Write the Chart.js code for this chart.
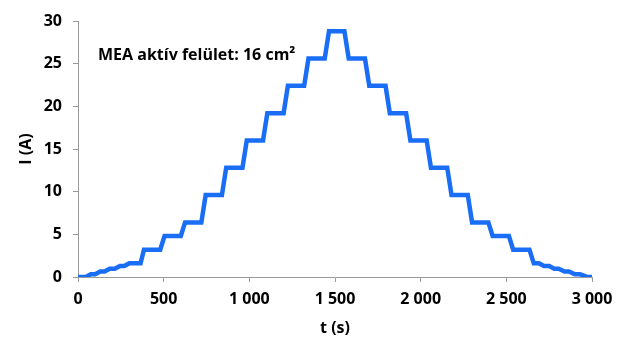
<!DOCTYPE html>
<html>
<head>
<meta charset="utf-8">
<script src="https://cdn.jsdelivr.net/npm/chart.js@4.4.1/dist/chart.umd.min.js"></script>
<style>
  html, body { margin: 0; padding: 0; background: #fff; }
  #wrap { width: 624px; height: 338px; }
</style>
</head>
<body>
<div id="wrap"><canvas id="chart"></canvas></div>
<script>
// step profile
const timeSec = [0, 45, 75, 100, 130, 155, 185, 215, 245, 270, 300, 365,
  385, 480, 505, 600, 625, 720, 745, 840, 865, 960, 985, 1080, 1105, 1200,
  1225, 1320, 1345, 1440, 1465, 1555, 1580, 1675, 1700, 1795, 1820, 1915,
  1940, 2035, 2060, 2155, 2180, 2275, 2300, 2395, 2420, 2515, 2540, 2635,
  2660, 2690, 2720, 2750, 2780, 2805, 2840, 2865, 2900, 2930, 2975, 3000]
const currentA = [0, 0, 0.32, 0.32, 0.64, 0.64, 0.96, 0.96, 1.28, 1.28, 1.6, 1.6,
  3.2, 3.2, 4.8, 4.8, 6.4, 6.4, 9.6, 9.6, 12.8, 12.8, 16, 16, 19.2, 19.2,
  22.4, 22.4, 25.6, 25.6, 28.8, 28.8, 25.6, 25.6, 22.4, 22.4, 19.2, 19.2,
  16, 16, 12.8, 12.8, 9.6, 9.6, 6.4, 6.4, 4.8, 4.8, 3.2, 3.2,
  1.6, 1.6, 1.28, 1.28, 0.96, 0.96, 0.64, 0.64, 0.32, 0.32, 0, 0]
const xTicks = [0, 500, 1000, 1500, 2000, 2500, 3000]
const yTicks = [0, 5, 10, 15, 20, 25, 30]
const note = 'MEA aktív felület: 16 cm²'

const font = { family: 'Open Sans', weight: 'bold', size: 16 }
const axisGrey = '#9a9a9a'

const points = timeSec.map((t, i) => ({ x: t, y: currentA[i] }))

const fmt = (v) => v >= 1000 ? Math.floor(v / 1000) + ' ' + String(v % 1000).padStart(3, '0') : String(v)

const notePlugin = {
  id: 'note',
  afterDraw(chart) {
    const { ctx, chartArea } = chart
    ctx.save()
    ctx.font = 'bold 16px "Open Sans"'
    ctx.fillStyle = '#000'
    ctx.textBaseline = 'alphabetic'
    ctx.fillText(note, chartArea.left + 20, chartArea.top + 39)
    ctx.restore()
  }
}

new Chart(document.getElementById('chart'), {
  type: 'scatter',
  data: {
    datasets: [{
      data: points,
      showLine: true,
      borderColor: '#1a6ef5',
      borderWidth: 4.5,
      borderJoinStyle: 'miter',
      pointRadius: 0,
      tension: 0
    }]
  },
  options: {
    responsive: true,
    maintainAspectRatio: false,
    animation: false,
    layout: { padding: { top: 21, right: 32, bottom: 0, left: 0 } },
    plugins: { legend: { display: false }, tooltip: { enabled: false } },
    scales: {
      x: {
        type: 'linear', min: 0, max: 3000,
        afterBuildTicks: (s) => { s.ticks = xTicks.map(v => ({ value: v })) },
        afterFit: (s) => { s.height = 61 },
        grid: { drawOnChartArea: false, drawTicks: true, tickLength: 5, color: axisGrey },
        border: { color: axisGrey, width: 1 },
        ticks: { color: '#000', font, padding: 8, maxRotation: 0, callback: (v) => fmt(v) },
        title: { display: true, text: 't (s)', color: '#000', font, padding: { top: 0, bottom: 0 } }
      },
      y: {
        type: 'linear', min: 0, max: 30,
        afterBuildTicks: (s) => { s.ticks = yTicks.map(v => ({ value: v })) },
        afterFit: (s) => { s.width = 78 },
        grid: { drawOnChartArea: false, drawTicks: true, tickLength: 5, color: axisGrey },
        border: { color: axisGrey, width: 1 },
        ticks: { color: '#000', font, padding: 11 },
        title: { display: true, text: 'I (A)', color: '#000', font, padding: { top: 17, bottom: 0 } }
      }
    }
  },
  plugins: [notePlugin]
})
</script>
</body>
</html>
